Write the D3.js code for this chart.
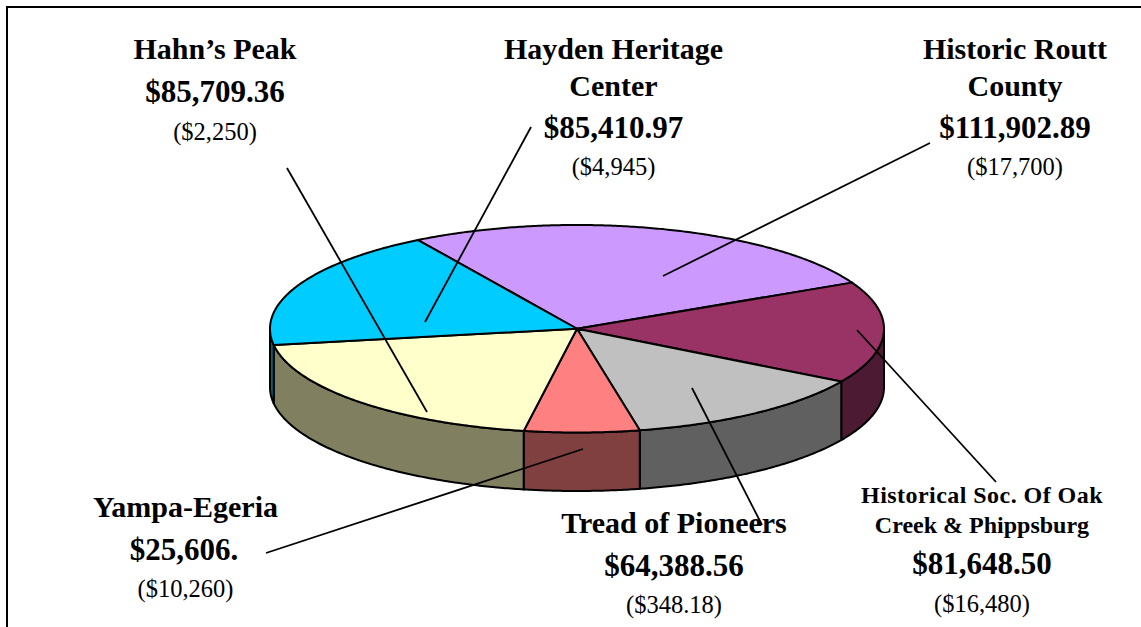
<!DOCTYPE html>
<html><head><meta charset="utf-8">
<script src="https://cdn.jsdelivr.net/npm/d3@7"></script>
<style>html,body{margin:0;padding:0;background:#fff;overflow:hidden}svg{display:block}
text{font-family:"Liberation Serif","Times New Roman",serif;fill:#000}</style>
</head><body><svg id="c" width="1141" height="627"></svg>
<script>
// Data
const sliceNames = ["Historic Routt County","Historical Soc. Of Oak Creek & Phippsburg","Tread of Pioneers","Yampa-Egeria","Hahn’s Peak","Hayden Heritage Center"];
const sliceShares = [94.8, 57, 47.6, 21.8, 71, 67.8];
const sliceColors = ["#CC99FF","#993366","#C0C0C0","#FF8080","#FFFFCC","#00CCFF"];
const wallColors  = ["#66507F","#4D1A33","#606060","#804040","#808060","#006680"];
const amounts = ["$111,902.89","$81,648.50","$64,388.56","$25,606.","$85,709.36","$85,410.97"];
const pledges = ["($17,700)","($16,480)","($348.18)","($10,260)","($2,250)","($4,945)"];
const titleLines = [["Historic Routt","County"],["Historical Soc. Of Oak","Creek & Phippsburg"],["Tread of Pioneers"],["Yampa-Egeria"],["Hahn’s Peak"],["Hayden Heritage","Center"]];

const svg = d3.select("#c");
const W=1141,H=627;
const x = d3.scaleLinear().domain([-1,1]).range([270,884]);
const y = d3.scaleLinear().domain([-1,1]).range([225,432.5]);
const depth = 58.5;
const deg = Math.PI/180;
const pie = d3.pie().sort(null).value(d=>d).startAngle(-31.2*deg).endAngle((360-31.2)*deg);
const arcs = pie(sliceShares).map((a,i)=>({...a,i}));
const pt = (t,dz=0)=>[x(Math.sin(t)), y(-Math.cos(t))+dz];
const line = d3.line();
function sample(a0,a1,dz){ const n=Math.max(2,Math.ceil(Math.abs(a1-a0)/(0.5*deg))); return d3.range(n+1).map(k=>pt(a0+(a1-a0)*k/n,dz)); }

svg.append("path").attr("d",d3.line()([[7,H+10],[7,7],[W+10,7]])).attr("fill","none").attr("stroke","#000").attr("stroke-width",2);

// walls (front half only)
const wallG = svg.append("g");
arcs.forEach(a=>{
  [[a.startAngle,a.endAngle],[a.startAngle-2*Math.PI,a.endAngle-2*Math.PI]].forEach(([s,e])=>{
    const lo=Math.max(s,90*deg), hi=Math.min(e,270*deg);
    if(hi<=lo) return;
    const pts=sample(lo,hi,0).concat(sample(hi,lo,depth));
    wallG.append("path").attr("d",line(pts)+"Z").attr("fill",wallColors[a.i]).attr("stroke","#000").attr("stroke-width",2).attr("stroke-linejoin","round");
  });
});
// top faces
const topG = svg.append("g");
const cen = [x(0),y(0)];
arcs.forEach(a=>{
  topG.append("path").attr("d",line([cen].concat(sample(a.startAngle,a.endAngle,0)))+"Z")
    .attr("fill",sliceColors[a.i]).attr("stroke","#000").attr("stroke-width",2).attr("stroke-linejoin","round");
});

// leader lines [from label to slice]
const leaders = [[930,143,663,276],[996,482,857,330],[762,525,692,388],[266,553,583,449],[287,168,427,412],[531,127,425,322]];
svg.append("g").selectAll("line").data(leaders).join("line")
  .attr("x1",d=>d[0]).attr("y1",d=>d[1]).attr("x2",d=>d[2]).attr("y2",d=>d[3])
  .attr("stroke","#000").attr("stroke-width",1.8);

// labels layout
const layout = [
 {cx:1015,title:[59,96],amt:138,sub:175,ts:30,as:31,ss:24.5},
 {cx:982,title:[503,533],amt:574,sub:612,ts:24,as:31,ss:24.5,tsp:[0.45,0]},
 {cx:674,title:[533],amt:576,sub:613,ts:30,as:31,ss:24.5},
 {cx:185.5,title:[517],amt:560,sub:597,ts:30,as:31,ss:24.5,acx:184},
 {cx:215,title:[59],amt:102,sub:140,ts:30,as:31,ss:24.5},
 {cx:613.5,title:[59,96],amt:138,sub:175,ts:30,as:31,ss:24.5}];
const g = svg.append("g").attr("text-anchor","middle");
layout.forEach((l,i)=>{
  titleLines[i].forEach((t,k)=>g.append("text").attr("x",l.cx).attr("y",l.title[k]).attr("font-size",l.ts).attr("font-weight","bold").attr("letter-spacing",l.tsp?l.tsp[k]:0).text(t));
  g.append("text").attr("x",l.acx||l.cx).attr("y",l.amt).attr("font-size",l.as).attr("font-weight","bold").text(amounts[i]);
  g.append("text").attr("x",l.cx).attr("y",l.sub).attr("font-size",l.ss).text(pledges[i]);
});
</script></body></html>
